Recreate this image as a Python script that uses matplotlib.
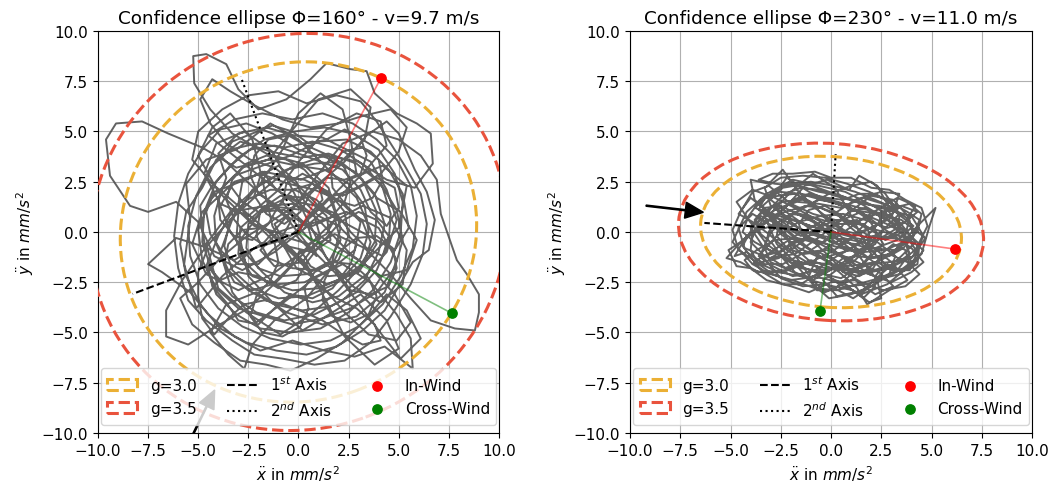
import numpy as np
import matplotlib
matplotlib.use("Agg")
import matplotlib.pyplot as plt
from matplotlib.patches import Ellipse

plt.rcParams["font.size"] = 11

# plot settings per panel
titles = ["Confidence ellipse \u03a6=160\u00b0 - v=9.7 m/s",
          "Confidence ellipse \u03a6=230\u00b0 - v=11.0 m/s"]
g_labels = ["g=3.0", "g=3.5"]
g_colors = ["#EBB035", "#E9533D"]

# ellipse (width, height, angle) for g=3.0 and g=3.5
ell_left = [(17.9, 16.8, 20.0), (20.9, 19.6, 20.0)]
ell_right = [(13.0, 7.5, -4.0), (15.2, 8.8, -4.0)]

# principal axis end points (1st, 2nd)
axes_left = [(-8.27, -3.08), (-2.88, 7.73)]
axes_right = [(-6.30, 0.45), (0.23, 3.88)]

# in-wind / cross-wind points
wind_left = [(4.11, 7.65), (7.64, -4.04)]
wind_right = [(6.17, -0.85), (-0.55, -3.92)]

# wind arrow (tail, tip)
arrow_left = [(-5.44, -10.44), (-4.18, -7.86)]
arrow_right = [(-9.20, 1.31), (-6.35, 0.98)]

# acceleration traces, waypoints
path_left = [
    (0.3, 0.2), (1.8, 1.5), (3.2, 2.9), (4.4, 4.3), (4.1, 5.5), (2.9, 5.9), (1.4, 5.1), (0.1, 3.6),
    (-1.1, 2.0), (-2.5, 0.8), (-3.9, 1.4), (-4.7, 2.9), (-4.1, 4.4), (-2.7, 5.0), (-1.3, 4.0), (-0.4, 2.3),
    (0.5, 0.5), (1.4, -1.3), (2.7, -2.7), (4.1, -3.5), (5.2, -2.6), (5.4, -0.9), (4.6, 0.7), (3.2, 1.3),
    (1.7, 0.5), (0.3, -0.9), (-1.3, -2.1), (-3.0, -2.9), (-4.6, -2.1), (-5.3, -0.6), (-4.8, 1.0), (-3.4, 2.3),
    (-1.7, 3.0), (0.1, 2.6), (1.9, 3.3), (3.3, 4.6), (3.6, 6.2), (2.6, 7.1), (1.0, 6.6), (-0.2, 5.2),
    (-1.5, 3.6), (-3.1, 3.2), (-4.8, 4.2), (-6.5, 4.9), (-7.8, 5.5), (-9.1, 5.4), (-9.6, 4.6), (-9.4, 2.8),
    (-8.4, 1.3), (-7.5, 1.0), (-6.1, 1.5), (-5.0, 0.5), (-4.2, -1.2), (-2.8, -1.9), (-1.2, -1.0), (0.6, 0.4),
    (2.4, 1.0), (4.0, 0.2), (4.9, -1.4), (4.3, -3.0), (2.9, -4.2), (1.2, -4.6), (-0.6, -4.0), (-2.1, -3.0),
    (-3.6, -3.6), (-4.4, -5.0), (-3.5, -6.1), (-2.7, -6.8), (-2.3, -5.6), (-1.2, -4.4), (0.4, -3.3), (1.6, -1.8),
    (2.1, 0.2), (1.5, 2.2), (0.2, 3.4), (-1.6, 3.9), (-3.3, 4.9), (-4.4, 6.1), (-5.2, 7.4), (-5.25, 8.75),
    (-4.6, 8.85), (-3.6, 8.35), (-3.0, 7.1), (-2.0, 6.1), (-0.6, 6.6), (0.6, 7.6), (1.4, 8.4), (2.6, 8.1),
    (3.4, 8.0), (3.8, 6.9), (4.9, 5.9), (5.9, 5.4), (6.6, 4.9), (6.7, 3.4), (5.8, 2.2), (4.4, 2.6),
    (3.0, 3.5), (1.3, 3.8), (-0.4, 3.2), (-2.0, 1.9), (-3.6, 0.4), (-4.9, -1.1), (-5.8, -2.4), (-6.6, -3.9),
    (-6.6, -5.2), (-5.5, -5.6), (-4.1, -4.7), (-2.5, -3.8), (-0.9, -2.3), (0.4, -0.9), (1.8, -0.1), (3.3, -0.8),
    (4.5, -2.0), (5.6, -3.3), (6.6, -4.4), (7.8, -4.8), (8.8, -4.9), (9.0, -4.0), (9.0, -3.1), (8.4, -2.1),
    (7.9, -1.4), (7.1, 0.9), (6.9, 2.6), (6.1, 3.8), (5.0, 4.6), (3.7, 5.0), (2.2, 4.4), (1.0, 2.9),
    (-0.3, 1.1), (-1.7, -0.5), (-3.2, -1.4), (-4.8, -0.7), (-6.1, -0.3), (-7.5, -1.6), (-6.8, -2.0), (-5.4, -3.0),
    (-4.5, -4.1), (-3.2, -5.2), (-1.9, -5.9), (-0.3, -5.4), (1.3, -5.9), (2.8, -6.2), (4.3, -5.7), (5.7, -6.8),
    (5.6, -5.3), (4.9, -4.1), (3.6, -2.5), (2.2, -1.6), (0.8, -2.3), (-0.6, -3.4), (-2.1, -4.5), (-3.3, -3.0),
    (-3.9, -1.0), (-3.2, 0.9), (-1.9, 2.4), (-0.8, 4.1), (0.0, 5.9), (1.1, 6.9), (2.2, 6.1), (2.6, 4.6),
    (2.9, 2.9), (3.9, 1.7), (5.1, 1.0), (5.9, -0.4), (5.4, -1.9), (4.1, -2.2), (2.6, -1.1), (1.0, 0.6),
    (-0.4, 1.8), (-1.8, 1.1), (-2.9, -0.4), (-2.5, -2.2), (-1.3, -3.5), (0.2, -4.9), (1.7, -4.0), (3.1, -3.1),
    (4.4, -4.4), (5.0, -5.8), (3.8, -6.6), (2.3, -5.2), (1.2, -3.1), (0.4, -1.6), (-0.8, -0.4), (-2.2, -0.8),
    (-3.8, -2.2), (-5.1, -3.8), (-5.7, -1.6), (-5.4, 0.6), (-5.6, 2.4), (-4.6, 3.6), (-3.1, 4.1), (-1.4, 5.4),
    (0.0, 4.6), (1.6, 3.0), (2.9, 1.7), (3.9, -0.6), (3.0, -2.0), (1.4, -2.6), (-0.1, -1.8), (-1.3, 0.3),
    (-1.8, 2.6), (-2.3, 4.6), (-3.4, 5.9), (-4.3, 5.2), (-5.0, 3.8), (-4.0, 2.0), (-2.2, 0.3), (-0.4, -0.2),
    (1.1, 1.2), (2.5, 2.6), (4.2, 3.3), (5.4, 2.3), (5.0, 0.2), (3.7, -1.1), (2.0, -2.9), (0.6, -4.1),
    (-0.9, -5.1), (-2.6, -4.0), (-4.0, -2.8), (-4.6, -0.6), (-3.4, 1.0), (-1.6, 1.3), (0.2, 1.1),
    # second stretch of the record, mostly inside the core
    (-4.5, 4.8), (-3.2, 5.6), (-1.8, 5.9), (-0.3, 5.6), (1.2, 5.9), (2.7, 5.4), (3.9, 4.6), (4.9, 3.6),
    (5.6, 2.3), (5.9, 0.8), (5.7, -0.8), (5.1, -2.2), (4.2, -3.6), (3.0, -4.7), (1.6, -5.4), (0.1, -5.6),
    (-1.4, -5.3), (-2.8, -4.7), (-4.0, -3.8), (-4.9, -2.6), (-5.4, -1.2), (-5.5, 0.3), (-5.1, 1.8), (-4.4, 3.2),
    (-3.4, 4.1), (-2.1, 4.4), (-0.7, 4.2), (0.7, 4.5), (2.1, 4.1), (3.3, 3.3), (4.2, 2.2), (4.6, 0.9),
    (4.5, -0.5), (3.9, -1.9), (2.9, -3.0), (1.6, -3.7), (0.2, -3.9), (-1.2, -3.6), (-2.5, -2.9), (-3.5, -1.9),
    (-4.1, -0.6), (-4.2, 0.8), (-3.8, 2.2), (-2.8, 3.2), (-1.5, 3.6), (-0.1, 3.3), (1.3, 3.1), (2.5, 2.4),
    (3.3, 1.3), (3.5, 0.0), (3.1, -1.3), (2.2, -2.3), (1.0, -2.8), (-0.3, -2.9), (-1.6, -2.5), (-2.6, -1.6),
    (-3.1, -0.4), (-3.0, 0.9), (-2.3, 2.1), (-1.1, 2.8), (0.3, 2.6), (1.5, 2.0), (2.3, 1.0), (2.5, -0.2),
    (2.0, -1.4), (0.9, -1.9), (-0.3, -1.8), (-1.5, -1.3), (-2.1, -0.2), (-1.9, 1.1), (-0.9, 1.8), (0.4, 1.7),
    (1.4, 0.8), (1.6, -0.4), (0.7, -1.0), (-0.6, -0.7), (-1.2, 0.4), (-0.3, 1.0), (0.9, -0.1), (2.2, -0.9),
    (3.6, -1.8), (4.8, -3.1), (5.6, -4.5), (4.9, -5.4), (3.5, -5.1), (2.3, -4.0), (1.1, -2.6), (-0.2, -1.2),
    (-1.6, 0.1), (-3.0, 1.3), (-4.3, 2.4), (-5.3, 3.6), (-5.0, 5.0), (-3.8, 6.1), (-2.5, 6.8), (-1.0, 7.0),
    (0.4, 6.4), (1.9, 6.8), (3.1, 6.5), (3.9, 5.5), (4.6, 4.4), (5.3, 3.3), (6.1, 1.9), (6.4, 0.4),
    (6.2, -1.1), (5.6, -2.6), (4.6, -4.2), (3.6, -5.5), (2.3, -6.4), (0.8, -6.6), (-0.8, -6.3), (-2.2, -6.1),
    (-3.3, -5.4), (-4.6, -4.4), (-5.5, -3.4), (-6.0, -1.8), (-6.2, -0.2), (-6.0, 1.4), (-5.5, 2.9), (-4.8, 4.1),
    (-3.9, 5.1), (-2.6, 5.4), (-1.3, 4.9), (0.0, 4.1), (1.4, 3.7), (2.8, 3.0), (3.8, 1.9), (4.3, 0.4),
    (4.0, -1.0), (3.3, -2.4), (2.2, -3.4), (0.8, -4.1), (-0.7, -4.4), (-2.1, -4.0), (-3.3, -3.2), (-4.3, -2.0),
    (-4.8, -0.5), (-4.7, 1.0), (-4.1, 2.5), (-3.0, 3.7), (-1.7, 4.6), (-0.2, 5.0), (1.3, 5.2), (2.7, 4.9),
    (4.0, 4.1), (4.8, 2.9), (5.2, 1.5), (5.1, 0.0), (4.6, -1.5), (3.7, -2.9), (2.5, -4.0), (1.1, -4.8),
    (-0.4, -5.0), (-1.9, -4.8), (-3.1, -4.1), (-4.1, -3.1), (-4.6, -1.7), (-4.0, -0.2), (-3.2, 1.2), (-2.0, 2.3),
    (-0.6, 3.1), (0.8, 3.4), (2.1, 3.5), (3.2, 2.6), (3.9, 1.0), (3.8, -0.5), (3.0, -1.8), (1.8, -2.6),
    (0.4, -3.2), (-1.0, -3.3), (-2.3, -2.8), (-3.3, -1.9), (-3.7, -0.7), (-3.4, 0.6), (-2.6, 1.6), (-1.4, 2.1),
    (-0.2, 2.1), (0.9, 1.6), (1.8, 0.7), (2.1, -0.4), (1.5, -1.5), (0.4, -2.1), (-0.9, -2.2), (-2.0, -1.8),
    (-2.6, -0.8), (-2.5, 0.4), (-1.5, 1.3), (-0.3, 1.4), (0.8, 0.8), (1.1, -0.3), (0.2, -1.5), (-1.2, -1.7),
    (-1.9, -0.9), (-1.0, 0.0), (0.2, 0.4), (1.5, 1.7), (2.9, 2.2), (4.1, 2.9), (5.0, 4.0), (5.4, 5.2),
    (4.6, 6.1), (3.3, 5.8), (2.0, 5.4), (0.6, 5.2), (-0.8, 5.6), (-2.2, 6.3), (-3.4, 7.0), (-4.3, 7.6),
    (-4.9, 6.6), (-4.4, 5.4), (-3.6, 4.4), (-2.4, 3.6), (-1.2, 3.2), (0.1, 2.2), (1.2, 1.1), (2.4, 0.4),
    (3.7, -0.3), (4.8, -0.9), (5.5, 0.2), (5.2, 1.9), (4.5, 3.1), (3.6, 4.0), (2.4, 4.6), (1.0, 4.5),
    (-0.4, 3.8), (-1.8, 3.3), (-3.2, 2.8), (-4.4, 1.6), (-5.0, 0.1), (-4.8, -1.4), (-4.1, -2.8), (-3.0, -3.8),
    (-1.7, -4.2), (-0.3, -4.6), (1.2, -4.3), (2.6, -3.8), (3.9, -3.0), (4.8, -1.8), (5.2, -0.4), (4.9, 1.1),
    (4.1, 2.4), (2.9, 3.4), (1.5, 3.9), (0.1, 3.7), (-1.4, 4.0), (-2.9, 4.5), (-4.1, 3.6), (-4.8, 2.2),
    (-5.6, 1.0), (-5.9, -0.6), (-5.6, -2.2), (-4.9, -3.6), (-3.9, -4.8), (-2.6, -5.5), (-1.1, -5.9), (0.4, -6.1),
    (1.9, -5.7), (3.2, -4.9), (4.3, -3.9), (5.0, -2.7), (5.7, -1.5), (6.5, -0.9), (6.8, 0.6), (6.4, 2.0),
    (5.8, 3.1), (5.0, 4.9), (4.4, 5.5), (3.4, 4.8), (2.3, 3.5), (1.0, 2.4), (-0.2, 1.3), (-1.4, 0.5),
    (-2.7, -0.3), (-3.9, -1.3), (-5.0, -2.5), (-5.9, -3.3), (-5.3, -4.6), (-4.2, -5.5), (-2.9, -6.4), (-1.6, -6.6),
    (-0.4, -6.9), (0.9, -6.3), (2.2, -5.5), (3.4, -4.3), (4.4, -3.1), (5.4, -3.9), (6.1, -5.3), (5.1, -6.3),
    (4.0, -4.9), (3.1, -3.7), (1.9, -2.1), (0.6, -0.8), (-0.6, 0.7), (-1.9, 1.9), (-3.1, 3.0), (-4.0, 3.9),
    (-3.0, 4.9), (-1.6, 5.2), (-0.2, 4.8), (1.2, 4.7), (2.4, 4.1), (3.6, 3.5), (4.4, 2.1), (4.9, 0.6),
    (4.4, -1.0), (3.4, -2.1), (2.0, -3.2), (0.7, -3.5), (-0.7, -3.0), (-1.8, -2.0), (-2.7, -1.0), (-3.4, 0.0),
    (-3.9, 1.3), (-3.2, 2.5), (-1.9, 2.9), (-0.5, 2.4), (0.8, 2.1), (2.0, 1.6), (3.1, 0.5), (2.8, -0.9),
    (1.7, -1.8), (0.3, -2.5), (-1.1, -2.6), (-2.3, -2.2), (-3.0, -1.1), (-2.9, 0.2), (-2.0, 1.0), (-0.7, 1.1),
    (0.5, 0.2), (0.9, -1.2), (-0.1, -0.2),
    # third stretch, small curls in the centre
    (0.5, 0.8), (1.2, 1.6), (1.0, 2.5), (0.2, 2.9), (-0.6, 2.4), (-0.8, 1.5), (-0.2, 0.7), (0.7, 0.3),
    (1.6, 0.7), (2.3, 1.5), (2.6, 2.5), (2.2, 3.4), (1.3, 3.9), (0.4, 4.3), (-0.5, 4.8), (-1.5, 4.6),
    (-2.2, 3.8), (-2.4, 2.8), (-2.0, 1.9), (-1.2, 1.4), (-0.4, 0.5), (-0.9, -0.4), (-1.8, -0.6), (-2.6, -0.1),
    (-3.2, 0.6), (-3.6, 1.6), (-3.3, 2.6), (-2.6, 3.4), (-1.6, 3.8), (-0.6, 3.6), (0.3, 3.1), (1.0, 2.3),
    (1.8, 1.6), (2.8, 1.3), (3.7, 1.7), (4.2, 2.6), (4.0, 3.6), (3.2, 4.2), (2.2, 4.0), (1.6, 3.2),
    (1.7, 2.2), (2.4, 1.3), (3.2, 0.5), (3.6, -0.5), (3.3, -1.5), (2.5, -2.1), (1.5, -2.2), (0.6, -1.7),
    (0.1, -0.9), (-0.5, -1.8), (-1.3, -2.6), (-2.3, -2.9), (-3.2, -2.5), (-3.7, -1.6), (-3.5, -0.6), (-2.8, 0.1),
    (-1.9, 0.2), (-1.2, -0.5), (-1.0, -1.5), (-1.4, -2.4), (-2.1, -3.2), (-2.4, -4.2), (-1.8, -5.0), (-0.8, -5.2),
    (0.1, -4.7), (0.5, -3.8), (0.3, -2.8), (0.8, -2.0), (1.7, -1.5), (2.7, -1.6), (3.5, -2.3), (3.9, -3.2),
    (3.5, -4.1), (2.6, -4.5), (1.7, -4.2), (1.2, -3.4), (1.3, -2.4), (2.0, -1.0), (2.9, -0.3), (3.9, -0.2),
    (4.7, -0.8), (4.9, -1.8), (4.5, -2.7), (3.6, -3.1), (2.6, -2.9), (2.0, -2.1), (1.2, -1.0), (0.4, -0.2),
    (-0.3, 0.6), (-1.1, 1.2), (-2.0, 1.0), (-2.8, 1.5), (-3.4, 2.3), (-4.2, 2.0), (-4.6, 1.0), (-4.4, -0.1),
    (-3.8, -1.0), (-3.0, -1.6), (-2.0, -1.6), (-1.3, -0.9), (-0.5, -0.3), (0.5, -0.6), (1.4, -0.1), (1.9, 0.8),
    (1.5, 1.8), (0.7, 2.4), (-0.3, 2.1), (-1.0, 1.3), (-1.5, 0.4), (-2.3, -0.4), (-3.2, -0.2), (-3.9, 0.6),
    (-4.0, 1.6), (-3.6, 2.7), (-3.9, 3.6), (-3.3, 4.5), (-2.3, 4.9), (-1.3, 5.3), (-0.3, 5.0), (0.5, 4.4),
    (1.4, 4.6), (2.3, 5.1), (3.1, 4.7), (3.4, 3.8), (3.1, 2.9), (2.3, 2.6), (1.4, 2.7), (0.6, 1.9),
    (0.1, 1.0), (-0.7, 0.4), (-1.6, 0.9), (-2.2, 1.8), (-1.9, 2.8), (-1.0, 3.3), (-0.1, 2.5), (0.3, 1.5),
    (1.0, 0.8), (2.0, 0.3), (2.9, -0.6), (2.6, -1.6), (1.7, -2.8), (0.7, -3.3), (-0.4, -3.1), (-1.2, -3.8),
    (-2.0, -4.6), (-3.0, -4.4), (-3.6, -3.5), (-4.3, -2.7), (-4.5, -1.7), (-3.9, -2.4), (-3.0, -2.0), (-2.0, -2.2),
    (-1.0, -2.8), (-0.1, -2.4), (0.5, -1.4), (1.2, -0.5), (2.1, 0.5), (3.0, 1.0), (3.9, 0.6), (4.5, -0.2),
    (4.2, -1.2), (3.4, -0.8), (2.6, 0.0), (1.9, 0.9), (0.9, 1.3), (-0.1, 1.5), (-1.1, 2.1), (-1.8, 3.0),
    (-2.8, 2.5), (-3.0, 1.4), (-2.4, 0.5), (-1.4, 0.0), (-0.4, -0.9), (0.4, -1.7), (0.9, -2.6), (1.9, -3.3),
    (2.9, -3.8), (3.8, -4.6), (4.1, -5.4), (3.2, -5.6), (2.1, -5.0), (1.2, -4.4), (0.3, -4.0), (-0.7, -3.6),
    (-1.7, -3.4), (-2.7, -3.6), (-3.5, -4.3), (-4.2, -5.1), (-4.8, -4.3), (-5.0, -3.2), (-5.0, -2.0), (-4.6, -1.0),
    (-4.8, 0.1), (-4.9, 1.3), (-4.3, 2.3), (-3.4, 3.3), (-2.4, 4.1), (-1.2, 4.3), (0.0, 3.9), (1.1, 3.5),
    (2.2, 3.1), (3.1, 2.1), (3.6, 1.0), (4.4, 0.3), (5.0, 1.2), (4.8, 2.2), (3.9, 2.7), (3.0, 2.2),
    (2.2, 1.8),
]

path_right = [
    (0.2, -0.3), (1.5, 0.6), (2.8, 1.1), (4.0, 0.8), (4.6, -0.2), (4.1, -1.2), (2.9, -1.8), (1.5, -2.1),
    (0.1, -1.6), (-1.2, -0.8), (-2.6, 0.1), (-3.9, 0.9), (-4.6, 0.2), (-4.3, -0.8), (-3.1, -1.3), (-1.8, -1.1),
    (-0.5, -0.2), (0.8, 0.9), (2.0, 1.8), (3.1, 1.6), (3.9, 0.7), (3.6, -0.6), (2.4, -1.4), (1.0, -2.4),
    (-0.3, -3.0), (-1.1, -2.2), (-0.6, -1.0), (0.6, -0.3), (1.9, -0.6), (3.0, -1.5), (3.8, -2.4), (2.9, -2.9),
    (1.8, -3.6), (1.3, -2.8), (0.3, -1.9), (-1.0, -1.4), (-2.3, -1.9), (-3.6, -2.0), (-4.5, -1.5), (-5.2, -1.3),
    (-4.4, -0.4), (-3.3, 0.4), (-2.2, 1.3), (-1.3, 2.3), (-0.2, 2.6), (0.9, 2.1), (1.4, 2.8), (2.3, 2.3),
    (2.9, 1.2), (2.1, 0.1), (0.9, -0.9), (-0.4, -1.3), (-1.6, -0.5), (-2.8, 0.6), (-3.8, 1.6), (-4.0, 2.6),
    (-3.1, 2.4), (-2.4, 3.1), (-1.7, 2.1), (-0.8, 1.2), (0.5, 0.2), (1.8, -0.8), (3.2, -0.9), (4.4, 0.4),
    (5.2, 1.2), (4.9, 0.3), (4.5, -1.1), (3.6, -1.8), (2.3, -2.5), (1.1, -3.3), (-0.2, -2.6), (-1.4, -2.7),
    (-2.5, -2.3), (-3.5, -1.1), (-3.0, 0.0), (-1.9, 0.9), (-0.6, 1.6), (0.7, 1.4), (1.9, 0.6), (2.6, -0.6),
    (1.7, -1.5), (0.5, -2.3), (-0.8, -2.0), (-2.0, -1.5), (-3.2, -0.6), (-4.1, 0.6), (-4.7, 1.5), (-3.9, 2.1),
    (-2.8, 1.7), (-1.6, 1.1), (-0.3, 0.4), (1.0, -0.2), (2.4, 0.4), (3.5, 1.3), (4.3, 1.0), (3.3, 0.2),
    (2.0, -0.6), (0.8, -1.5), (-0.4, -2.4), (0.3, -3.2), (1.6, -2.9), (2.6, -2.0), (3.5, -1.2), (4.2, -0.5),
    (3.4, 0.5), (2.1, 1.3), (0.7, 2.0), (-0.6, 2.3), (-1.9, 2.6), (-3.2, 1.9), (-4.2, 1.0), (-4.9, -0.5),
    (-3.9, -1.6), (-2.6, -1.3), (-1.3, -0.4), (0.0, 0.8), (1.2, 1.6), (2.5, 2.0), (3.4, 1.9), (3.0, 0.7),
    (1.8, 0.1), (0.4, -0.6), (-1.0, -0.1), (-2.2, 0.5), (-3.4, 1.0), (-2.7, -0.6), (-1.5, -1.8), (-0.2, -2.0),
    (1.1, -1.2), (2.3, -0.2), (3.7, -0.4), (4.0, -1.6), (2.8, -2.6), (1.5, -3.1), (0.4, -2.6), (-0.9, -1.6),
    (-2.0, -0.6), (-3.0, 0.9), (-2.0, 2.0), (-0.9, 2.9), (0.2, 2.2), (0.9, 1.0), (2.0, -1.1), (1.2, -2.0),
    (-0.1, -1.2), (-1.5, 0.1), (-2.7, 1.1), (-1.2, 1.8), (0.3, 1.4), (1.6, 0.9), (3.0, 0.3), (4.6, -0.9),
    (3.9, -1.9), (2.5, -1.8), (1.0, -0.6), (-0.5, 0.5), (-1.8, -0.2), (-3.3, -1.2), (-4.0, -0.5), (-3.5, 0.8),
    (-2.3, 0.2), (-1.0, -0.9), (0.2, -0.1),
    # second stretch of the record
    (-3.8, 1.2), (-3.0, 1.9), (-2.1, 2.4), (-1.0, 2.5), (0.1, 2.3), (1.2, 2.0), (2.2, 1.6), (3.1, 1.2),
    (3.9, 1.4), (4.5, 0.9), (4.3, 0.0), (3.6, -0.5), (2.7, -0.9), (1.6, -1.0), (0.5, -0.8), (-0.6, -0.5),
    (-1.7, -0.3), (-2.8, -0.4), (-3.7, -0.9), (-4.3, -1.4), (-3.9, -1.9), (-3.0, -2.1), (-1.9, -2.4), (-0.8, -2.8),
    (0.3, -2.9), (1.3, -2.6), (2.4, -2.3), (3.3, -1.9), (3.9, -1.1), (3.6, -0.1), (2.8, 0.6), (1.8, 1.1),
    (0.7, 1.4), (-0.4, 1.7), (-1.5, 1.9), (-2.6, 2.0), (-3.5, 1.6), (-4.1, 0.8), (-4.4, 0.0), (-3.8, -0.5),
    (-2.9, -1.0), (-1.9, -1.4), (-0.8, -1.7), (0.3, -1.9), (1.4, -1.8), (2.5, -1.4), (3.4, -0.8), (4.1, -0.2),
    (4.4, 0.6), (3.8, 1.0), (2.9, 1.5), (1.9, 2.0), (0.8, 2.4), (-0.3, 2.7), (-1.4, 2.8), (-2.5, 2.7),
    (-3.3, 2.2), (-3.0, 1.3), (-2.1, 0.7), (-1.0, 0.3), (0.1, 0.0), (1.2, -0.3), (2.3, -0.5), (3.2, -1.2),
    (2.9, -2.1), (2.0, -2.7), (1.0, -3.1), (-0.1, -3.3), (-0.9, -2.6), (-1.6, -1.8), (-2.5, -1.2), (-3.4, -0.7),
    (-4.0, 0.2), (-3.5, 0.9), (-2.5, 1.5), (-1.4, 1.6), (-0.3, 1.1), (0.8, 0.6), (1.9, 0.2), (3.0, -0.1),
    (4.0, -0.8), (4.6, -1.5), (4.0, -2.0), (3.0, -2.5), (1.9, -2.1), (0.9, -1.4), (-0.2, -0.9), (-1.3, -1.0),
    (-2.4, -1.6), (-3.3, -1.6), (-4.2, -1.0), (-4.8, -1.2), (-4.2, -0.2), (-3.3, 0.5), (-2.3, 1.0), (-1.2, 1.3),
    (-0.1, 1.9), (1.0, 2.3), (2.0, 2.5), (2.7, 1.9), (3.4, 0.9), (2.5, 0.0), (1.4, -0.6), (0.3, -1.2),
    (-0.8, -1.9), (-1.9, -2.2), (-2.9, -1.7), (-3.6, -1.2), (-2.7, -0.2), (-1.6, 0.5), (-0.5, 0.8), (0.6, 0.9),
    (1.7, 0.6), (2.8, 0.2), (3.7, 0.5), (4.2, 1.3), (3.3, 1.7), (2.3, 1.1), (1.3, 0.5), (0.2, 0.6),
    (-0.9, 0.9), (-2.0, 1.4), (-3.1, 2.3), (-3.9, 2.0), (-4.5, 1.0), (-4.9, 0.1), (-4.6, -0.9), (-3.7, -1.5),
    (-2.6, -2.0), (-1.5, -2.2), (-0.4, -2.3), (0.7, -2.6), (1.6, -3.3), (2.1, -2.8), (2.8, -1.6), (3.5, -2.0),
    (4.3, -1.6), (4.4, -0.6), (3.5, 0.2), (2.5, 0.8), (1.5, 1.4), (0.5, 1.8), (-0.6, 2.0), (-1.7, 2.3),
    (-2.8, 2.4), (-3.6, 2.6), (-2.9, 2.9), (-1.9, 2.9), (-0.8, 3.0), (0.0, 2.7), (1.0, 2.7), (2.0, 2.2),
    (2.9, 2.1), (3.7, 1.6), (4.5, 1.2), (4.8, 0.3), (4.2, -0.9), (3.2, -1.6), (2.1, -1.9), (1.0, -2.0),
    (-0.1, -1.6), (-1.2, -1.5), (-2.2, -0.9), (-3.1, -0.1), (-3.9, 0.5), (-4.6, 0.9), (-4.0, 1.7), (-3.1, 1.0),
    (-2.0, 0.2), (-0.9, -0.4), (0.2, -1.0), (1.3, -1.5), (2.4, -2.0), (3.1, -2.7), (2.2, -3.1), (1.2, -2.4),
    (0.0, -2.5), (-1.1, -3.0), (-2.0, -2.7), (-3.2, -2.4), (-4.0, -1.8), (-4.7, -1.7), (-5.1, -0.9), (-4.5, -0.5),
    (-3.6, 0.1), (-2.6, 0.4), (-1.5, 0.0), (-0.4, -0.2), (0.7, -0.4), (1.8, -1.3), (2.9, -1.1), (3.8, -1.5),
    (4.4, -2.1), (3.7, -2.7), (2.6, -2.9), (1.5, -2.5), (0.5, -1.9), (-0.5, -1.3), (-1.6, -0.8), (-2.5, -0.1),
    (-3.4, 1.3), (-2.4, 2.2), (-1.2, 2.4), (-0.1, 2.0), (1.1, 1.6), (2.1, 1.3), (3.2, 1.0), (4.1, 0.3),
    (3.3, -0.4), (2.2, -0.8), (1.1, -0.9), (0.0, -0.5), (-1.1, 0.2), (-2.1, 0.9), (-3.0, 1.6), (-2.2, 2.7),
    (-1.1, 2.0), (0.0, 1.5), (1.1, 1.1), (2.3, 0.9), (3.5, 0.6), (4.7, -0.3), (4.0, -1.3), (2.9, -1.5),
    (1.8, -1.6), (0.7, -1.7), (-0.4, -1.9), (-1.5, -2.6), (-2.4, -2.6), (-3.4, -2.0), (-4.4, -0.7), (-3.8, 0.4),
    (-2.8, 1.1), (-1.7, 1.5), (-0.6, 1.4), (0.5, 1.2), (1.6, 1.7), (2.6, 1.4), (3.6, 0.0), (2.7, -0.4),
    (1.6, 0.4), (0.4, 0.4), (-0.7, 0.0), (-1.9, -0.6), (-3.0, -1.3), (-2.1, -1.9), (-1.0, -2.4), (0.1, -2.7),
    (1.1, -2.9), (1.9, -3.5), (2.5, -3.3), (2.3, -2.4), (1.4, -1.2), (0.3, -0.3), (-0.8, 0.5), (-1.9, 1.0),
    # third stretch, small curls in the centre
    (0.3, 0.4), (0.9, 1.0), (1.7, 1.2), (2.4, 0.8), (2.6, 0.1), (2.2, -0.6), (1.5, -1.0), (0.7, -0.9),
    (0.1, -0.4), (-0.5, 0.3), (-1.2, 0.8), (-2.0, 0.9), (-2.6, 0.5), (-2.7, -0.2), (-2.2, -0.8), (-1.4, -1.1),
    (-0.6, -1.0), (0.1, -1.4), (0.6, -2.0), (1.4, -2.2), (2.1, -1.8), (2.5, -1.1), (3.1, -0.6), (3.7, -0.9),
    (3.9, -1.6), (3.4, -2.1), (2.6, -2.3), (1.8, -2.6), (0.9, -2.7), (0.0, -2.3), (-0.7, -1.7), (-1.5, -1.5),
    (-2.3, -1.8), (-3.0, -1.5), (-3.3, -0.8), (-3.1, 0.0), (-2.6, 0.9), (-1.9, 1.6), (-1.1, 1.9), (-0.2, 1.7),
    (0.6, 1.6), (1.4, 1.9), (2.2, 1.9), (2.9, 1.5), (3.4, 0.8), (3.3, 0.0), (2.7, -0.3), (1.9, -0.2),
    (1.1, 0.3), (0.4, 0.9), (-0.3, 1.3), (-1.1, 1.1), (-1.6, 0.4), (-1.3, -0.4), (-0.6, -0.6), (0.2, -0.2),
    (0.7, 0.5), (1.3, 0.6), (1.9, 0.0), (1.8, -0.8), (1.1, -1.5), (0.3, -1.7), (-0.5, -2.1), (-1.3, -2.3),
    (-2.1, -2.4), (-2.9, -2.1), (-3.6, -1.6), (-4.0, -0.9), (-3.9, -0.1), (-3.4, 0.6), (-2.9, 1.3), (-2.3, 1.9),
    (-1.5, 2.2), (-0.6, 2.1), (0.2, 1.8), (0.9, 1.6), (1.6, 1.4), (2.4, 1.3), (3.2, 1.1), (3.9, 0.6),
    (4.1, -0.2), (3.6, -0.8), (2.9, -1.2), (2.1, -1.3), (1.3, -1.2), (0.6, -1.3), (-0.1, -1.9), (-0.9, -2.4),
    (-1.8, -2.0), (-2.4, -1.3), (-2.9, -0.6), (-3.5, -0.1), (-3.8, 0.6), (-3.3, 1.2), (-2.5, 1.3), (-1.7, 0.9),
    (-0.9, 0.5), (-0.2, 0.0), (0.5, -0.5), (1.2, -0.6), (2.0, -0.9), (2.7, -1.6), (2.2, -2.2), (1.3, -1.9),
    (0.5, -1.2), (-0.2, -0.6), (-1.0, -0.3), (-1.9, -0.5), (-2.6, -1.0), (-3.4, -1.2), (-3.9, -1.6), (-3.2, -2.0),
    (-2.4, -2.0), (-1.6, -1.7), (-0.8, -1.4), (0.0, -1.0), (0.9, -0.4), (1.6, 0.3), (2.2, 1.0), (2.9, 0.8),
    (3.5, 0.2), (2.9, -0.3), (2.1, -0.4), (1.3, -0.1), (0.5, 0.1), (-0.3, 0.7), (-1.0, 1.5), (-1.8, 1.9),
    (-2.6, 1.8), (-3.3, 1.7), (-3.6, 1.1), (-3.0, 0.7), (-2.2, 0.2), (-1.5, -0.2), (-0.8, 0.1), (0.0, 0.5),
    (0.8, 0.7), (1.5, 1.0), (2.3, 0.4), (3.0, -0.1), (3.8, -0.3), (4.3, -1.0), (3.9, -1.9), (3.0, -1.9),
    (2.3, -1.5), (1.5, -1.6), (0.8, -2.3), (0.1, -2.9), (-0.7, -2.9), (-1.2, -2.0), (-1.9, -1.0), (-2.3, 0.0),
    (-2.0, 0.8), (-1.3, 1.3), (-0.5, 1.2), (0.3, 0.9), (1.0, 0.2), (1.6, -0.3),
]


def draw_panel(ax, title, path, ellipses, axes_pts, wind_pts, arrow):
    p = np.array(path)
    ax.plot(p[:, 0], p[:, 1], color="#474747", lw=1.4, alpha=0.85, zorder=2)

    for (w, h, ang), lab, col in zip(ellipses, g_labels, g_colors):
        e = Ellipse((0, 0), w, h, angle=ang, fill=False, edgecolor=col,
                    linestyle="--", lw=2.2, label=lab, zorder=3)
        ax.add_patch(e)

    (x1, y1), (x2, y2) = axes_pts
    ax.plot([0, x1], [0, y1], "k--", lw=1.5, label=r"$1^{st}$ Axis", zorder=4)
    ax.plot([0, x2], [0, y2], "k:", lw=1.5, label=r"$2^{nd}$ Axis", zorder=4)

    (iwx, iwy), (cwx, cwy) = wind_pts
    ax.plot([0, iwx], [0, iwy], color="red", alpha=0.5, lw=1.2, zorder=4)
    ax.plot([0, cwx], [0, cwy], color="green", alpha=0.5, lw=1.2, zorder=4)
    ax.scatter([iwx], [iwy], color="red", s=45, label="In-Wind", zorder=5)
    ax.scatter([cwx], [cwy], color="green", s=45, label="Cross-Wind", zorder=5)

    (tx, ty), (hx, hy) = arrow
    ax.arrow(tx, ty, hx - tx, hy - ty, width=0.06, head_width=0.8, head_length=0.9,
             length_includes_head=True, color="black", zorder=4)

    ax.set_xlim(-10, 10)
    ax.set_ylim(-10, 10)
    ax.set_xticks(np.arange(-10, 10.1, 2.5))
    ax.set_yticks(np.arange(-10, 10.1, 2.5))
    ax.grid(True)
    ax.set_axisbelow(True)
    ax.set_title(title)
    ax.set_xlabel(r"$\ddot{x}$ in $mm/s^2$")
    ax.set_ylabel(r"$\ddot{y}$ in $mm/s^2$")
    ax.legend(loc="lower center", ncol=3)


fig = plt.figure(figsize=(10.5, 4.89), dpi=100)
ax1 = fig.add_axes([0.0933, 0.1125, 0.3819, 0.8221])
ax2 = fig.add_axes([0.6, 0.1125, 0.3829, 0.8221])

draw_panel(ax1, titles[0], path_left, ell_left, axes_left, wind_left, arrow_left)
draw_panel(ax2, titles[1], path_right, ell_right, axes_right, wind_right, arrow_right)

fig.savefig("out.png", dpi=100)
